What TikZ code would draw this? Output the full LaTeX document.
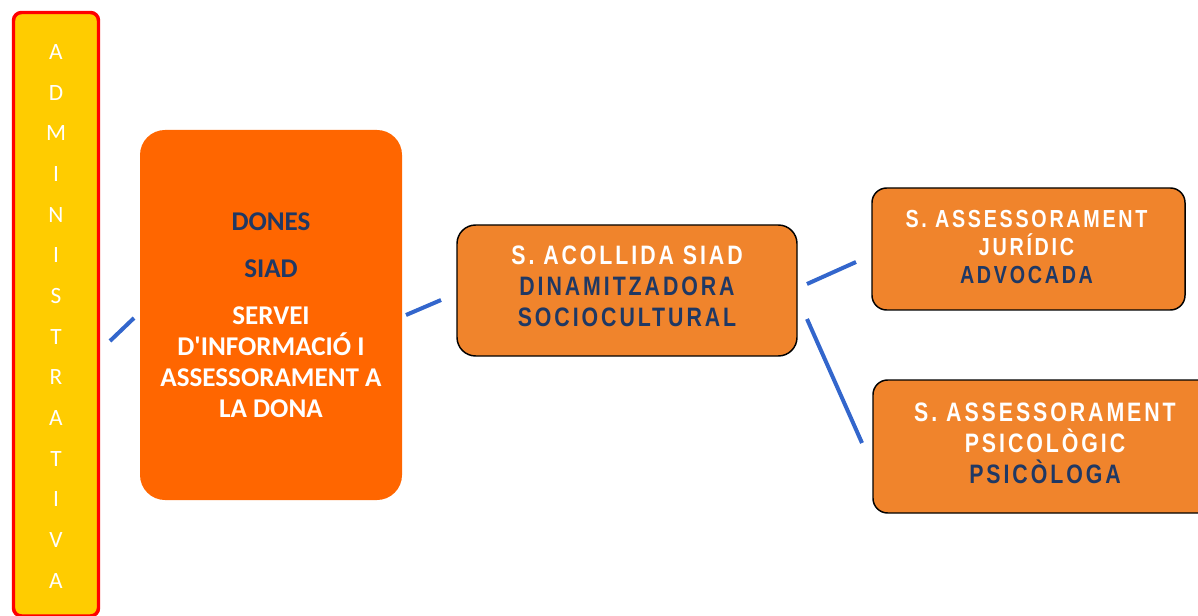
\documentclass[tikz,border=0pt]{standalone}
\usepackage{fontspec}
\newfontfamily\donesfont{Carlito}
\newfontfamily\servfont{Liberation Sans Bold}[FakeStretch=0.8,LetterSpace=11]
\definecolor{adminyellow}{HTML}{FFCC00}
\definecolor{adminred}{HTML}{FF0000}
\definecolor{donesorange}{HTML}{FF6600}
\definecolor{panelorange}{HTML}{F0842C}
\definecolor{navy}{HTML}{1F3864}
\definecolor{linkblue}{HTML}{3366CC}

\begin{document}
\begin{tikzpicture}[x=0.75pt,y=-0.75pt,
  panel/.style={draw=black,line width=1.1pt,fill=panelorange,inner sep=0pt},
  paneltext/.style={align=center,text=navy,inner sep=0pt},
  link/.style={draw=linkblue,line width=3pt}]
  \useasboundingbox (0,0) rectangle (1198,616);
  % left column
  \node[draw=adminred,line width=2.6pt,fill=adminyellow,rounded corners=6pt,
    minimum width=63.75pt,minimum height=452.6pt,inner sep=0pt] (admin) at (56,314.25) {};
  \node[font=\donesfont\fontsize{17.5}{30.5}\selectfont,text=white,align=center,inner sep=0pt]
    (admtext) at (56,316.5) {A\\D\\M\\I\\N\\I\\S\\T\\R\\A\\T\\I\\V\\A};
  % main box
  \node[fill=donesorange,rounded corners=18.75pt,minimum width=196.5pt,minimum height=277.5pt,
    inner sep=0pt,align=center,text=white,font=\donesfont\bfseries\fontsize{20.3}{23.25}\selectfont]
    (dones) at (271,315) {\textcolor{navy}{DONES}\\[12pt]\textcolor{navy}{SIAD}\\[12pt]
    SERVEI\\D'INFORMACIÓ I\\ASSESSORAMENT A\\LA DONA};
  % services
  \node[panel,rounded corners=14pt,minimum width=255pt,minimum height=98.25pt] (acollida) at (627,290.5) {};
  \node[paneltext,font=\servfont\fontsize{20}{23.25}\selectfont] (acollidatext) at (627,286)
    {\textcolor{white}{S. ACOLLIDA SIAD}\\DINAMITZADORA\\SOCIOCULTURAL};
  \node[panel,rounded corners=11pt,minimum width=234.75pt,minimum height=91.5pt] (juridic) at (1028.5,249) {};
  \node[paneltext,font=\servfont\fontsize{18.5}{21}\selectfont] (juridictext) at (1026.5,247)
    {\textcolor{white}{S. ASSESSORAMENT}\\\textcolor{white}{JURÍDIC}\\ADVOCADA};
  \node[panel,rounded corners=11pt,minimum width=258pt,minimum height=99.75pt] (psico) at (1045,446.5) {};
  \node[paneltext,font=\servfont\fontsize{20}{23.25}\selectfont] (psicotext) at (1045,443)
    {\textcolor{white}{S. ASSESSORAMENT}\\\textcolor{white}{PSICOLÒGIC}\\PSICÒLOGA};
  % connectors
  \coordinate (admout) at (110,341);
  \coordinate (donesin) at (134,318);
  \coordinate (donesout) at (406,315);
  \coordinate (acolin) at (441,300);
  \coordinate (acolup) at (807,284);
  \coordinate (jurin) at (856,262);
  \coordinate (acoldown) at (807,319);
  \coordinate (psicoin) at (862,443);
  \draw[link] (admout) -- (donesin);
  \draw[link] (donesout) -- (acolin);
  \draw[link] (acolup) -- (jurin);
  \draw[link] (acoldown) -- (psicoin);
\end{tikzpicture}
\end{document}
